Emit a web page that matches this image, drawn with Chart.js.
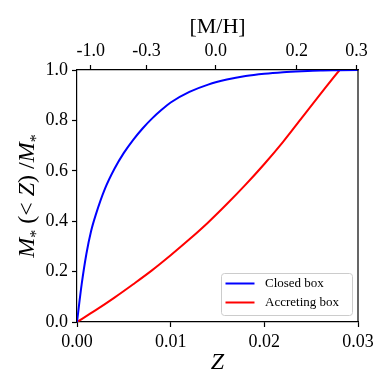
<!DOCTYPE html>
<html>
<head>
<meta charset="utf-8">
<script src="https://cdn.jsdelivr.net/npm/chart.js@4/dist/chart.umd.min.js"></script>
<style>
  html, body { margin: 0; padding: 0; background: #fff; }
</style>
</head>
<body>
<canvas id="chartCanvas" width="390" height="390"></canvas>
<script>
// values
const closedZ = [0, 0.0005, 0.001, 0.0015, 0.002, 0.003, 0.004, 0.005, 0.006, 0.007, 0.008, 0.009, 0.010, 0.012, 0.014, 0.016, 0.018, 0.020, 0.022, 0.024, 0.026, 0.028, 0.030];
const closedBox = [0, 0.15, 0.27, 0.36, 0.425, 0.53, 0.608, 0.671, 0.723, 0.768, 0.807, 0.841, 0.871, 0.913, 0.942, 0.962, 0.976, 0.985, 0.991, 0.995, 0.998, 0.999, 1.0];
const accretingZ = [0, 0.002, 0.004, 0.006, 0.008, 0.010, 0.012, 0.014, 0.016, 0.018, 0.020, 0.022, 0.024, 0.026, 0.028, 0.02805];
const accretingBox = [0, 0.047, 0.097, 0.150, 0.205, 0.265, 0.328, 0.395, 0.468, 0.545, 0.627, 0.715, 0.81, 0.905, 0.998, 1.0];
const seriesLabels = ['Closed box', 'Accreting box'];
const xTicks = [0, 0.01, 0.02, 0.03];
const yTicks = [0, 0.2, 0.4, 0.6, 0.8, 1.0];
const mhTickZ = [0.00146, 0.00741, 0.01481, 0.02346, 0.02983];
const mhLabels = ['-1.0', '-0.3', '0.0', '0.2', '0.3'];

const serif = "'Liberation Serif', 'DejaVu Serif', serif";

function pts(xs, ys) {
    return xs.map((x, i) => ({ x: x, y: ys[i] }));
}

const frameAndLegend = {
    id: 'frameAndLegend',
    afterDatasetsDraw(chart) {
        const { ctx, chartArea: a } = chart;
        ctx.save();
        // right spine
        ctx.strokeStyle = '#000';
        ctx.lineWidth = 1.2;
        ctx.beginPath();
        ctx.moveTo(a.right, a.top);
        ctx.lineTo(a.right, a.bottom);
        ctx.stroke();

        // legend
        const w = 131, h = 42;
        const x = a.right - 6 - w, y = a.bottom - 7 - h;
        ctx.fillStyle = 'rgba(255,255,255,0.8)';
        ctx.strokeStyle = '#cccccc';
        ctx.lineWidth = 1;
        ctx.beginPath();
        ctx.roundRect(x + 0.5, y + 0.5, w, h, 3);
        ctx.fill();
        ctx.stroke();
        chart.data.datasets.forEach((ds, i) => {
            const ry = y + 10.5 + i * 19;
            ctx.strokeStyle = ds.borderColor;
            ctx.lineWidth = 2;
            ctx.beginPath();
            ctx.moveTo(x + 4.5, ry);
            ctx.lineTo(x + 33.5, ry);
            ctx.stroke();
            ctx.fillStyle = '#000';
            ctx.font = '13px ' + serif;
            ctx.textBaseline = 'middle';
            ctx.textAlign = 'left';
            ctx.fillText(ds.label, x + 44, ry + 0.5);
        });
        ctx.restore();
    },
    afterDraw(chart) {
        // y axis title with subscripts
        const { ctx, chartArea: a } = chart;
        const parts = [
            { t: 'M', f: 'italic 24px ' + serif },
            { t: '*', f: '16px ' + serif, dy: 7 },
            { t: ' (< ', f: '24px ' + serif },
            { t: 'Z', f: 'italic 24px ' + serif },
            { t: ') /', f: '24px ' + serif },
            { t: 'M', f: 'italic 24px ' + serif },
            { t: '*', f: '16px ' + serif, dy: 7 }
        ];
        ctx.save();
        let total = 0;
        parts.forEach(p => { ctx.font = p.f; p.w = ctx.measureText(p.t).width; total += p.w; });
        ctx.translate(34, (a.top + a.bottom) / 2);
        ctx.rotate(-Math.PI / 2);
        ctx.fillStyle = '#000';
        ctx.textBaseline = 'alphabetic';
        ctx.textAlign = 'left';
        let cx = -total / 2;
        parts.forEach(p => {
            ctx.font = p.f;
            ctx.fillText(p.t, cx, p.dy || 0);
            cx += p.w;
        });
        ctx.restore();
    }
};

const tickFont = { family: serif, size: 18 };
const axisGrid = { drawOnChartArea: false, drawTicks: true, tickLength: 5, tickWidth: 1.2, tickColor: '#000' };
const axisBorder = { display: true, color: '#000', width: 1.2 };

new Chart(document.getElementById('chartCanvas').getContext('2d'), {
    type: 'scatter',
    data: {
        datasets: [{
            label: seriesLabels[0],
            data: pts(closedZ, closedBox),
            borderColor: '#0000ff',
            backgroundColor: '#0000ff',
            borderWidth: 2,
            showLine: true,
            pointRadius: 0,
            cubicInterpolationMode: 'monotone'
        }, {
            label: seriesLabels[1],
            data: pts(accretingZ, accretingBox),
            borderColor: '#ff0000',
            backgroundColor: '#ff0000',
            borderWidth: 2,
            showLine: true,
            pointRadius: 0,
            cubicInterpolationMode: 'monotone'
        }]
    },
    options: {
        responsive: false,
        animation: false,
        layout: { padding: { left: 0, right: 32, top: 0, bottom: 0 } },
        plugins: {
            legend: { display: false },
            tooltip: { enabled: false }
        },
        scales: {
            x: {
                type: 'linear',
                position: 'bottom',
                min: 0,
                max: 0.03,
                afterBuildTicks: axis => { axis.ticks = xTicks.map(v => ({ value: v })); },
                afterFit: axis => { axis.height = 68; },
                ticks: {
                    autoSkip: false,
                    maxRotation: 0,
                    padding: 4,
                    color: '#000',
                    font: tickFont,
                    callback: v => v.toFixed(2)
                },
                grid: axisGrid,
                border: axisBorder,
                title: {
                    display: true,
                    text: 'Z',
                    color: '#000',
                    font: { family: serif, size: 24, style: 'italic' },
                    padding: { top: 0, bottom: 13 }
                }
            },
            x2: {
                type: 'linear',
                position: 'top',
                min: 0,
                max: 0.03,
                afterBuildTicks: axis => { axis.ticks = mhTickZ.map(v => ({ value: v })); },
                afterFit: axis => { axis.height = 70; },
                ticks: {
                    autoSkip: false,
                    maxRotation: 0,
                    padding: 3,
                    color: '#000',
                    font: tickFont,
                    callback: (v, i) => mhLabels[i]
                },
                grid: axisGrid,
                border: axisBorder,
                title: {
                    display: true,
                    text: '[M/H]',
                    color: '#000',
                    font: { family: serif, size: 22 },
                    padding: { top: 14, bottom: 0 }
                }
            },
            y: {
                type: 'linear',
                position: 'left',
                min: 0,
                max: 1,
                afterBuildTicks: axis => { axis.ticks = yTicks.map(v => ({ value: v })); },
                afterFit: axis => { axis.width = 77; },
                ticks: {
                    autoSkip: false,
                    padding: 4,
                    color: '#000',
                    font: tickFont,
                    callback: v => v.toFixed(1)
                },
                grid: axisGrid,
                border: axisBorder
            }
        }
    },
    plugins: [frameAndLegend]
});
</script>
</body>
</html>
